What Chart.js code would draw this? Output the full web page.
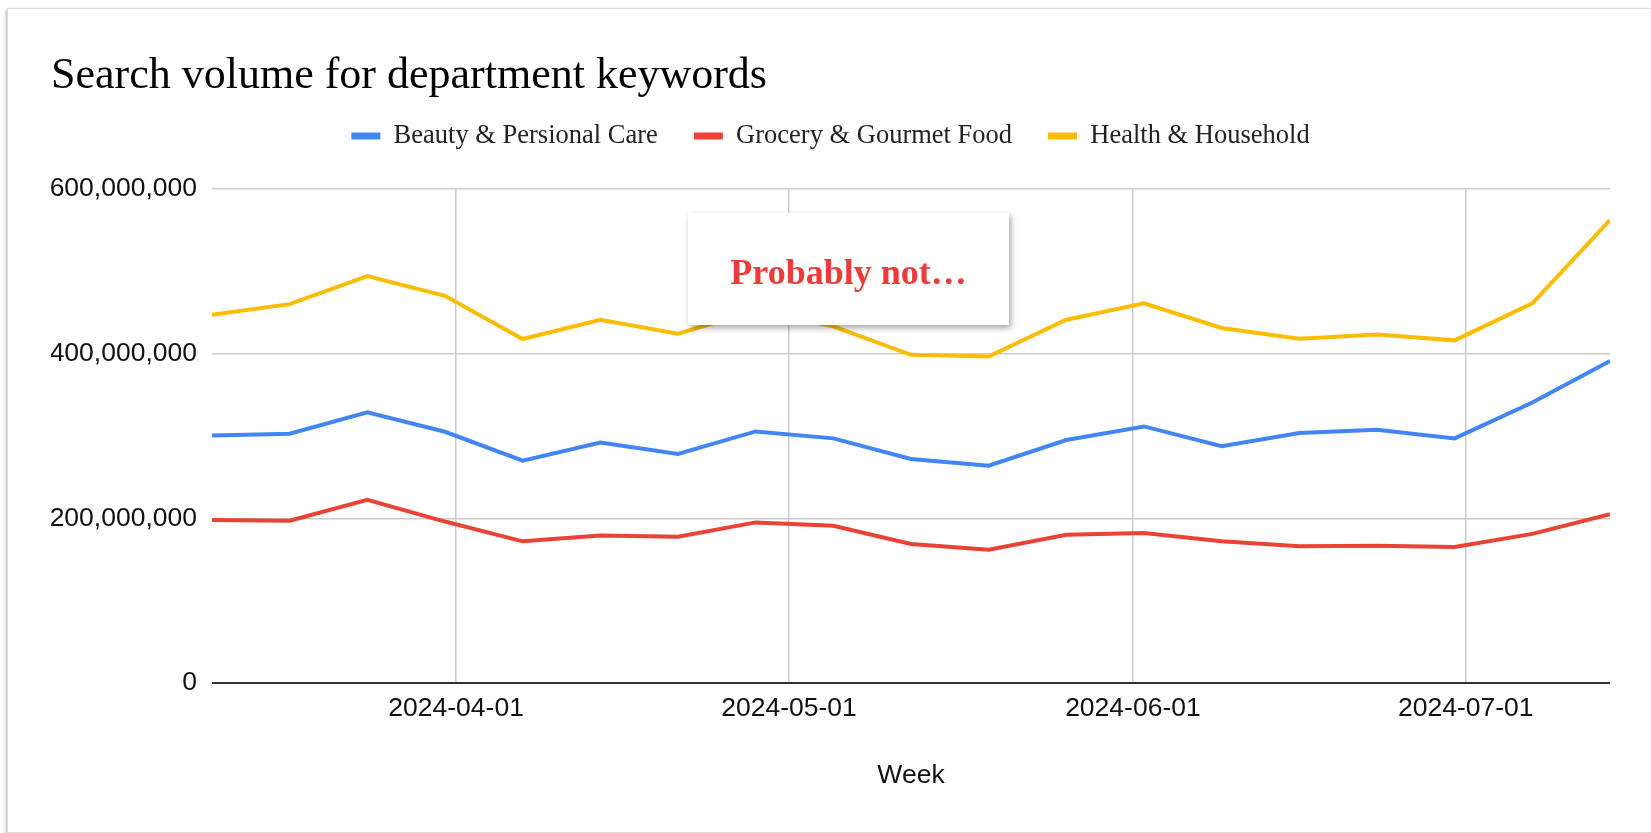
<!DOCTYPE html>
<html>
<head>
<meta charset="utf-8">
<title>Search volume for department keywords</title>
<script src="https://cdn.jsdelivr.net/npm/chart.js@4.4.1/dist/chart.umd.min.js"></script>
<style>
    html, body { margin: 0; padding: 0; background: #fff; }
    body { width: 1651px; height: 833px; position: relative; overflow: hidden; }
    .card {
        position: absolute; left: 7px; top: 8px; width: 1660px; height: 823px;
        border: 1px solid #dcdcdc; background: #fff;
        box-shadow: -1px 2px 3px rgba(0, 0, 0, 0.3);
    }
    #searchChart { position: absolute; left: 0; top: 0; }
    .note {
        position: absolute; left: 688px; top: 213px; width: 321px; height: 112px;
        box-sizing: border-box; padding-top: 6px;
        background: #fff; box-shadow: 2px 3px 6px rgba(0, 0, 0, 0.35);
        display: flex; align-items: center; justify-content: center;
        font-family: "Liberation Serif", serif; font-weight: bold; font-size: 36px;
        color: #ef3a3a;
    }
</style>
</head>
<body>
<div class="card"></div>
<canvas id="searchChart" width="1651" height="833"></canvas>
<div class="note">Probably not…</div>

<script>
// -------------------------------
// DATA
// -------------------------------
const weeks = [
    "2024-03-10", "2024-03-17", "2024-03-24", "2024-03-31", "2024-04-07",
    "2024-04-14", "2024-04-21", "2024-04-28", "2024-05-05", "2024-05-12",
    "2024-05-19", "2024-05-26", "2024-06-02", "2024-06-09", "2024-06-16",
    "2024-06-23", "2024-06-30", "2024-07-07", "2024-07-14"
];

// weekly search volume, in millions
const beautyCare = [300.5, 302.6, 328.5, 305, 270, 292, 278, 305.4, 297, 272, 263.8, 295, 311.5, 287.5, 303.5, 307.5, 297, 340.6, 391];
const groceryFood = [198, 197, 222.5, 196, 172, 179, 177.6, 195, 191, 168.7, 161.8, 180, 182, 172, 166, 166.7, 165, 181, 205];
const healthHousehold = [447, 460, 494, 470, 417.6, 441, 424, 452, 433, 398.5, 396.4, 441, 461, 431, 418, 423, 416, 461, 562];

const seriesNames = ["Beauty & Persional Care", "Grocery & Gourmet Food", "Health & Household"];
const seriesColors = ["#4285f4", "#ea4335", "#fbbc04"];

const monthTicks = ["2024-04-01", "2024-05-01", "2024-06-01", "2024-07-01"];
const yTicks = [0, 200000000, 400000000, 600000000];

// -------------------------------
// HELPERS
// -------------------------------
const DAY = 86400000;
const toDay = s => Date.parse(s + "T00:00:00Z") / DAY;
const fromDay = d => new Date(d * DAY).toISOString().slice(0, 10);

const toPoints = values => values.map((v, i) => ({ x: toDay(weeks[i]), y: v * 1e6 }));

const SERIF = "'Liberation Serif', 'Times New Roman', serif";
const SANS = "'Liberation Sans', Arial, sans-serif";

// extra room between the legend and the plot
const legendGap = {
    id: "legendGap",
    beforeInit(chart) {
        const fit = chart.legend.fit;
        chart.legend.fit = function () {
            fit.bind(chart.legend)();
            this.height += 29.5;
        };
    }
};

// -------------------------------
// CHART
// -------------------------------
const ctx = document.getElementById("searchChart").getContext("2d");

new Chart(ctx, {
    type: "line",
    data: {
        datasets: [beautyCare, groceryFood, healthHousehold].map((values, i) => ({
            label: seriesNames[i],
            data: toPoints(values),
            borderColor: seriesColors[i],
            backgroundColor: seriesColors[i],
            borderWidth: 4,
            pointRadius: 0,
            tension: 0,
            fill: false
        }))
    },
    options: {
        responsive: false,
        animation: false,
        layout: { padding: { top: 8, left: 51, right: 41, bottom: 0 } },
        plugins: {
            title: {
                display: true,
                text: "Search volume for department keywords",
                align: "start",
                color: "#000",
                font: { family: SERIF, size: 44, weight: "normal", lineHeight: 0.45 },
                padding: { top: 59, bottom: 0 }
            },
            legend: {
                display: true,
                position: "top",
                labels: {
                    color: "#222",
                    font: { family: SERIF, size: 26.5 },
                    boxWidth: 29,
                    boxHeight: 7,
                    padding: 36,
                    generateLabels(chart) {
                        return Chart.defaults.plugins.legend.labels.generateLabels(chart)
                            .map(item => ({ ...item, lineWidth: 0 }));
                    }
                }
            },
            tooltip: { enabled: false }
        },
        scales: {
            x: {
                type: "linear",
                min: toDay(weeks[0]),
                max: toDay(weeks[weeks.length - 1]),
                afterBuildTicks: scale => { scale.ticks = monthTicks.map(d => ({ value: toDay(d) })); },
                afterFit: scale => { scale.height = 150; },
                grid: { color: "#cccccc", lineWidth: 1.5, drawTicks: false },
                border: { display: false },
                ticks: {
                    color: "#111",
                    font: { family: SANS, size: 26.5 },
                    padding: 10,
                    maxRotation: 0,
                    autoSkip: false,
                    callback: value => fromDay(value)
                },
                title: {
                    display: true,
                    text: "Week",
                    color: "#111",
                    font: { family: SANS, size: 26.5 },
                    padding: { top: 0, bottom: 41 }
                }
            },
            y: {
                min: 0,
                max: 600000000,
                afterBuildTicks: scale => { scale.ticks = yTicks.map(v => ({ value: v })); },
                afterFit: scale => { scale.width = 161; },
                grid: {
                    color: c => (c.tick && c.tick.value === 0 ? "#333333" : "#cccccc"),
                    lineWidth: c => (c.tick && c.tick.value === 0 ? 2 : 1.5),
                    drawTicks: false
                },
                border: { display: false },
                ticks: {
                    color: "#111",
                    font: { family: SANS, size: 26.5 },
                    padding: 15,
                    callback: value => value.toLocaleString("en-US")
                }
            }
        }
    },
    plugins: [legendGap]
});
</script>
</body>
</html>
